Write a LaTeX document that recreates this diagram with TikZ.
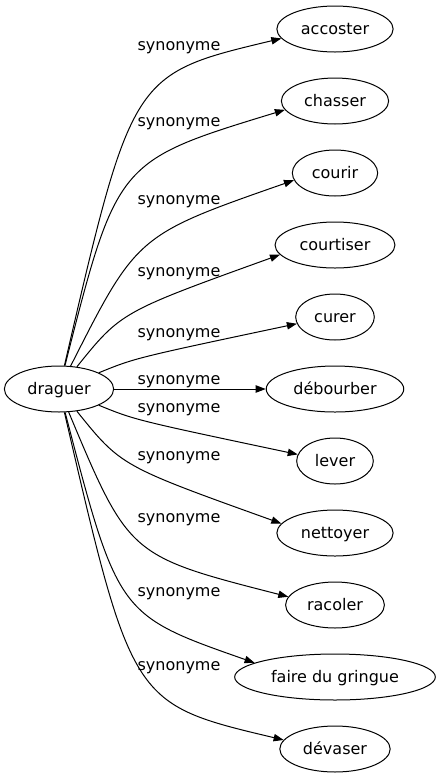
\documentclass[tikz,border=0pt]{standalone}
\usepackage{fontspec}
\setmainfont{DejaVu Sans}
\usetikzlibrary{arrows.meta,shapes.geometric}

\begin{document}
\begin{tikzpicture}[x=0.75pt, y=-0.75pt,
  word/.style={ellipse, draw=black, line width=0.75pt, inner xsep=5.25pt, inner ysep=0pt,
    minimum height=34.5pt, font=\fontsize{12pt}{14pt}\selectfont, text height=10pt, text depth=2.5pt},
  syn/.style={inner sep=0pt, font=\fontsize{12pt}{14pt}\selectfont, text height=10pt, text depth=2.5pt},
  link/.style={line width=0.75pt, -{Triangle[length=7.5pt, width=5.5pt]}}]

\useasboundingbox (0,0) rectangle (437,779);


% Head word
\node[word] (draguer) at (59,389) {draguer};


% Synonyms
\node[word] (accoster)  at (335,29)  {accoster};
\node[word] (chasser)   at (335,101) {chasser};
\node[word] (courir)    at (335,173) {courir};
\node[word] (courtiser) at (335,245) {courtiser};
\node[word] (curer)     at (335,317) {curer};
\node[word] (debourber) at (335,389) {débourber};
\node[word] (lever)     at (335,461) {lever};
\node[word] (nettoyer)  at (335,533) {nettoyer};
\node[word] (racoler)   at (335,605) {racoler};
\node[word] (faire)     at (335,677) {faire du gringue};
\node[word] (devaser)   at (335,749) {dévaser};


% Edge labels
\node[syn] (l1)  at (179,45)  {synonyme};
\node[syn] (l2)  at (179,121) {synonyme};
\node[syn] (l3)  at (179,199) {synonyme};
\node[syn] (l4)  at (179,271) {synonyme};
\node[syn] (l5)  at (179,332) {synonyme};
\node[syn] (l6)  at (179,379) {synonyme};
\node[syn] (l7)  at (179,407) {synonyme};
\node[syn] (l8)  at (179,455) {synonyme};
\node[syn] (l9)  at (179,517) {synonyme};
\node[syn] (l10) at (179,591) {synonyme};
\node[syn] (l11) at (179,665) {synonyme};


% Edges, upper half
\draw[link] (draguer) .. controls (132,74)  .. (accoster.190);
\draw[link] (draguer) .. controls (117,161) .. (chasser.190);
\draw[link] (draguer) .. controls (137,235) .. (courir.190);
\draw[link] (draguer) .. controls (121,312) .. (courtiser.190);
\draw[link] (draguer) .. controls (135,358) .. (curer.190);

% Straight one
\draw[link] (draguer) -- (debourber);

% Edges, lower half
\draw[link] (draguer) .. controls (135,420) .. (lever.170);
\draw[link] (draguer) .. controls (121,466) .. (nettoyer.170);
\draw[link] (draguer) .. controls (129,556) .. (racoler.170);
\draw[link] (draguer) .. controls (118,615) .. (faire.170);
\draw[link] (draguer) .. controls (132,704) .. (devaser.170);

\end{tikzpicture}
\end{document}
